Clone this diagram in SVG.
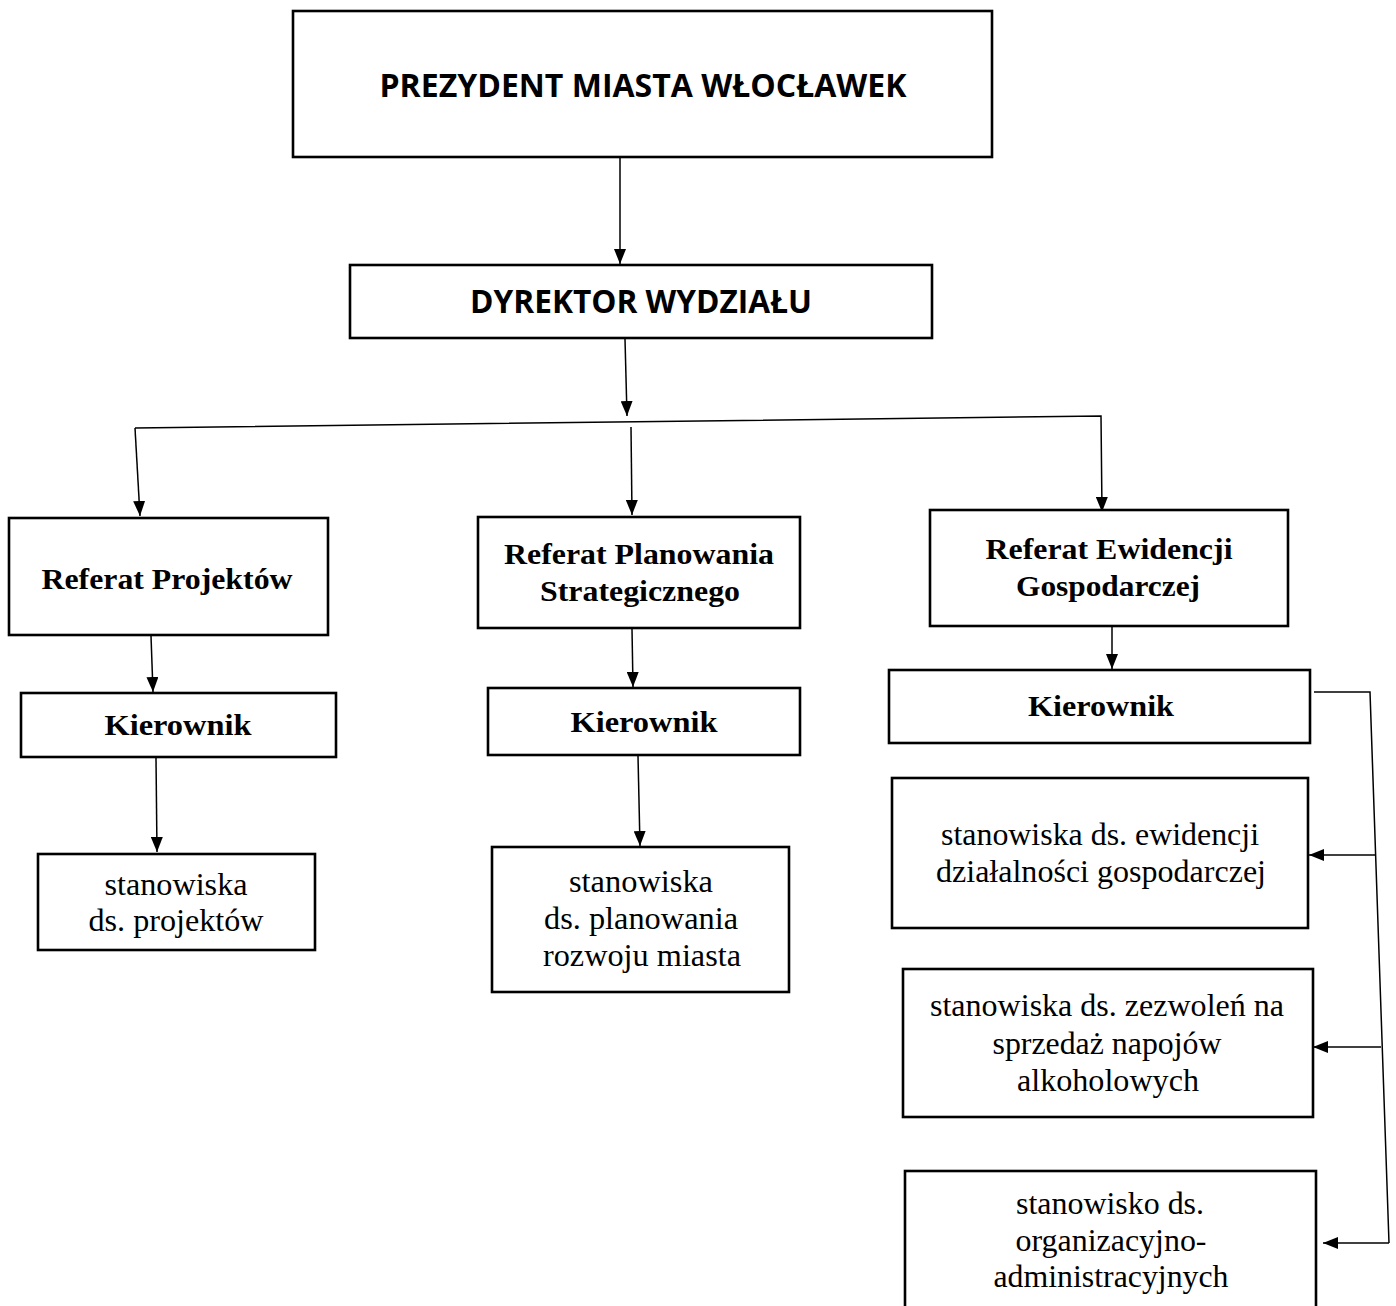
<svg xmlns="http://www.w3.org/2000/svg" width="1396" height="1306" viewBox="0 0 1396 1306">
<style>
.box{fill:#fff;stroke:#000;stroke-width:2.6}
.con{fill:none;stroke:#000;stroke-width:1.5}
.sans{font-family:"Open Sans","Liberation Sans",sans-serif;font-weight:bold;font-size:33px;fill:#000}
.sb{font-family:"Liberation Serif","Times New Roman",serif;font-weight:bold;font-size:30px;fill:#000}
.sr{font-family:"Liberation Serif","Times New Roman",serif;font-size:32px;fill:#000}
</style>
<defs>
<marker id="ah" markerUnits="userSpaceOnUse" markerWidth="16" markerHeight="12" refX="15" refY="6" orient="auto">
<path d="M0,0 L15,6 L0,12 z" fill="#000"/>
</marker>
</defs>
<rect width="1396" height="1306" fill="#fff"/>
<g id="connectors">
<line class="con" x1="620" y1="158" x2="620" y2="264" marker-end="url(#ah)"/>
<line class="con" x1="625" y1="339" x2="627" y2="416" marker-end="url(#ah)"/>
<polyline class="con" points="135,428 1101,416 1102,512" marker-end="url(#ah)"/>
<line class="con" x1="135" y1="428" x2="140" y2="516" marker-end="url(#ah)"/>
<line class="con" x1="631" y1="427" x2="632" y2="515" marker-end="url(#ah)"/>
<line class="con" x1="151" y1="636" x2="153" y2="692" marker-end="url(#ah)"/>
<line class="con" x1="632" y1="629" x2="633" y2="687" marker-end="url(#ah)"/>
<line class="con" x1="1112" y1="627" x2="1112" y2="669" marker-end="url(#ah)"/>
<line class="con" x1="156" y1="758" x2="157" y2="852" marker-end="url(#ah)"/>
<line class="con" x1="638" y1="756" x2="640" y2="846" marker-end="url(#ah)"/>
<polyline class="con" points="1314,692 1370,692 1389,1243"/>
<line class="con" x1="1375" y1="855" x2="1309" y2="855" marker-end="url(#ah)"/>
<line class="con" x1="1381" y1="1047" x2="1313" y2="1047" marker-end="url(#ah)"/>
<line class="con" x1="1389" y1="1243" x2="1323" y2="1243" marker-end="url(#ah)"/>
</g>
<g id="prezydent">
<rect class="box" x="293" y="11" width="699" height="146"/>
<text class="sans" x="643" y="97" text-anchor="middle" textLength="527" lengthAdjust="spacingAndGlyphs">PREZYDENT MIASTA WŁOCŁAWEK</text>
</g>
<g id="dyrektor">
<rect class="box" x="350" y="265" width="582" height="73"/>
<text class="sans" x="641" y="313" text-anchor="middle" textLength="342" lengthAdjust="spacingAndGlyphs">DYREKTOR WYDZIAŁU</text>
</g>
<g id="ref-projektow">
<rect class="box" x="9" y="518" width="319" height="117"/>
<text class="sb" x="167" y="589" text-anchor="middle" textLength="251" lengthAdjust="spacingAndGlyphs">Referat Projektów</text>
</g>
<g id="ref-planowania">
<rect class="box" x="478" y="517" width="322" height="111"/>
<text class="sb" x="639" y="564" text-anchor="middle" textLength="270" lengthAdjust="spacingAndGlyphs">Referat Planowania</text>
<text class="sb" x="640" y="601" text-anchor="middle" textLength="200" lengthAdjust="spacingAndGlyphs">Strategicznego</text>
</g>
<g id="ref-ewidencji">
<rect class="box" x="930" y="510" width="358" height="116"/>
<text class="sb" x="1109" y="559" text-anchor="middle" textLength="247" lengthAdjust="spacingAndGlyphs">Referat Ewidencji</text>
<text class="sb" x="1108" y="596" text-anchor="middle" textLength="184" lengthAdjust="spacingAndGlyphs">Gospodarczej</text>
</g>
<g id="kierownik-1">
<rect class="box" x="21" y="693" width="315" height="64"/>
<text class="sb" x="178" y="735" text-anchor="middle" textLength="147" lengthAdjust="spacingAndGlyphs">Kierownik</text>
</g>
<g id="kierownik-2">
<rect class="box" x="488" y="688" width="312" height="67"/>
<text class="sb" x="644" y="732" text-anchor="middle" textLength="147" lengthAdjust="spacingAndGlyphs">Kierownik</text>
</g>
<g id="kierownik-3">
<rect class="box" x="889" y="670" width="421" height="73"/>
<text class="sb" x="1101" y="716" text-anchor="middle" textLength="146" lengthAdjust="spacingAndGlyphs">Kierownik</text>
</g>
<g id="st-projektow">
<rect class="box" x="38" y="854" width="277" height="96"/>
<text class="sr" x="176" y="895" text-anchor="middle" textLength="143" lengthAdjust="spacingAndGlyphs">stanowiska</text>
<text class="sr" x="176" y="931" text-anchor="middle" textLength="175" lengthAdjust="spacingAndGlyphs">ds. projektów</text>
</g>
<g id="st-planowania">
<rect class="box" x="492" y="847" width="297" height="145"/>
<text class="sr" x="641" y="892" text-anchor="middle" textLength="144" lengthAdjust="spacingAndGlyphs">stanowiska</text>
<text class="sr" x="641" y="929" text-anchor="middle" textLength="194" lengthAdjust="spacingAndGlyphs">ds. planowania</text>
<text class="sr" x="642" y="966" text-anchor="middle" textLength="198" lengthAdjust="spacingAndGlyphs">rozwoju miasta</text>
</g>
<g id="st-ewidencji">
<rect class="box" x="892" y="778" width="416" height="150"/>
<text class="sr" x="1100" y="845" text-anchor="middle" textLength="318" lengthAdjust="spacingAndGlyphs">stanowiska ds. ewidencji</text>
<text class="sr" x="1101" y="882" text-anchor="middle" textLength="330" lengthAdjust="spacingAndGlyphs">działalności gospodarczej</text>
</g>
<g id="st-zezwolen">
<rect class="box" x="903" y="969" width="410" height="148"/>
<text class="sr" x="1107" y="1016" text-anchor="middle" textLength="354" lengthAdjust="spacingAndGlyphs">stanowiska ds. zezwoleń na</text>
<text class="sr" x="1107" y="1054" text-anchor="middle" textLength="229" lengthAdjust="spacingAndGlyphs">sprzedaż napojów</text>
<text class="sr" x="1108" y="1091" text-anchor="middle" textLength="182" lengthAdjust="spacingAndGlyphs">alkoholowych</text>
</g>
<g id="st-organizacyjno">
<rect class="box" x="905" y="1171" width="411" height="140"/>
<text class="sr" x="1110" y="1214" text-anchor="middle" textLength="188" lengthAdjust="spacingAndGlyphs">stanowisko ds.</text>
<text class="sr" x="1111" y="1251" text-anchor="middle" textLength="191" lengthAdjust="spacingAndGlyphs">organizacyjno-</text>
<text class="sr" x="1111" y="1287" text-anchor="middle" textLength="235" lengthAdjust="spacingAndGlyphs">administracyjnych</text>
</g>
</svg>
